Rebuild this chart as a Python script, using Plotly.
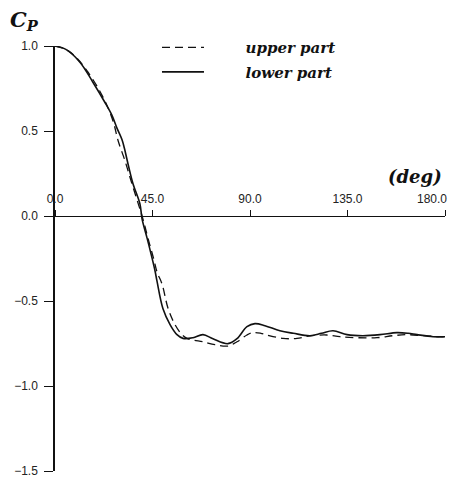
import plotly.graph_objects as go

# upper part (dashed)
upper_deg = [0, 5, 10, 15, 20, 24, 27, 29.1, 32.3, 35.1, 38.3, 40.6, 42.9, 45.5, 47.1, 49.4,
             52.2, 55.4, 58.6, 60.9, 64, 68.3, 73.8, 79.8, 84, 88.6, 91.4, 95, 97.8, 105.2,
             111.7, 117.7, 125.5, 131.5, 139.4, 148.6, 156, 162.5, 169.8, 177.7, 180]
upper_cp = [1.0, 0.98, 0.93, 0.85, 0.75, 0.65, 0.55, 0.444, 0.325, 0.207, 0.077, -0.018, -0.13,
            -0.25, -0.33, -0.40, -0.544, -0.639, -0.698, -0.72, -0.73, -0.74, -0.757, -0.765,
            -0.74, -0.70, -0.686, -0.69, -0.70, -0.72, -0.72, -0.705, -0.70, -0.71, -0.716,
            -0.716, -0.704, -0.698, -0.704, -0.71, -0.71]

# lower part (solid)
lower_deg = [0, 5, 11.5, 17.5, 23, 26.3, 28.5, 30.9, 32, 34, 36.0, 39.2, 40.2, 42.5, 44.8, 46.2,
             47.1, 49.8, 53.1, 56.3, 59.1, 63.7, 68.3, 72.9, 79.8, 84, 88.6, 92.3, 96.9, 103.8,
             110, 117.7, 123, 128.3, 134.8, 142.1, 150, 157.8, 163, 167.1, 174.5, 180]
lower_cp = [1.0, 0.98, 0.905, 0.787, 0.669, 0.592, 0.52, 0.45, 0.40, 0.29, 0.19, 0.071, -0.018,
            -0.13, -0.248, -0.325, -0.385, -0.544, -0.639, -0.698, -0.72, -0.716, -0.698, -0.722,
            -0.751, -0.722, -0.651, -0.633, -0.645, -0.675, -0.69, -0.704, -0.69, -0.675, -0.698,
            -0.704, -0.698, -0.686, -0.69, -0.698, -0.71, -0.71]

x_ticks = [0, 45, 90, 135, 180]
x_labels = ["0.0", "45.0", "90.0", "135.0", "180.0"]
y_ticks = [-1.5, -1.0, -0.5, 0.0, 0.5, 1.0]
y_labels = ["\u22121.5", "\u22121.0", "\u22120.5", "0.0", "0.5", "1.0"]

serif = "DejaVu Serif"
sans = "Liberation Sans"
pad = "\u00a0" * 7
tick_font = dict(family=sans, size=12, color="#222222")

fig = go.Figure()
fig.add_trace(go.Scatter(
    x=upper_deg, y=upper_cp, mode="lines", line_shape="spline",
    name=pad + "upper part", legendgroup="u",
    line=dict(color="#111111", width=1.3, dash="8px,5px")))
fig.add_trace(go.Scatter(
    x=lower_deg, y=lower_cp, mode="lines", line_shape="spline",
    name=pad + "lower part", legendgroup="l",
    line=dict(color="#111111", width=1.6)))

fig.update_layout(
    width=452, height=476,
    margin=dict(l=47, r=15, t=38, b=13, autoexpand=False),
    paper_bgcolor="white", plot_bgcolor="white",
    showlegend=True,
    legend=dict(x=0.2615, y=1.035, xanchor="left", yanchor="top",
                bgcolor="rgba(0,0,0,0)", itemwidth=42,
                traceorder="grouped", tracegroupgap=2,
                font=dict(family=serif, size=15, color="#111111", style="italic", weight="bold")),
    xaxis=dict(range=[0, 180], anchor="free", position=0.6, side="top", automargin=False,
               showgrid=False, zeroline=False, showline=True, linecolor="#111111", linewidth=1.3,
               ticks="outside", ticklen=6, tickwidth=1.2, tickcolor="#111111",
               tickvals=x_ticks, ticktext=x_labels[:-1] + [""], ticklabelstandoff=2,
               ticklabeloverflow="allow", tickfont=tick_font),
    yaxis=dict(range=[-1.5, 1.0], showgrid=False, zeroline=False, showline=True, automargin=False,
               linecolor="#111111", linewidth=1.5, ticks="outside", ticklen=9, tickwidth=1.2,
               tickcolor="#111111", tickvals=y_ticks, ticktext=y_labels, ticklabelstandoff=4,
               ticklabeloverflow="allow", tickfont=tick_font),
    annotations=[
        dict(text="<b><i>C<sub>P</sub></i></b>", xref="paper", yref="paper",
             x=-0.121, y=1.061, xanchor="left", yanchor="middle", showarrow=False,
             font=dict(family=serif, size=21, color="#111111")),
        dict(text="<b><i>(deg)</i></b>", xref="paper", yref="paper",
             x=0.923, y=0.694, xanchor="center", yanchor="middle", showarrow=False,
             font=dict(family=serif, size=18, color="#111111")),
        dict(text=x_labels[-1], xref="x", yref="y", x=x_ticks[-1], y=0,
             xanchor="right", yanchor="bottom", xshift=4, yshift=8, showarrow=False,
             font=tick_font),
    ],
)

fig.write_html("out.html")
